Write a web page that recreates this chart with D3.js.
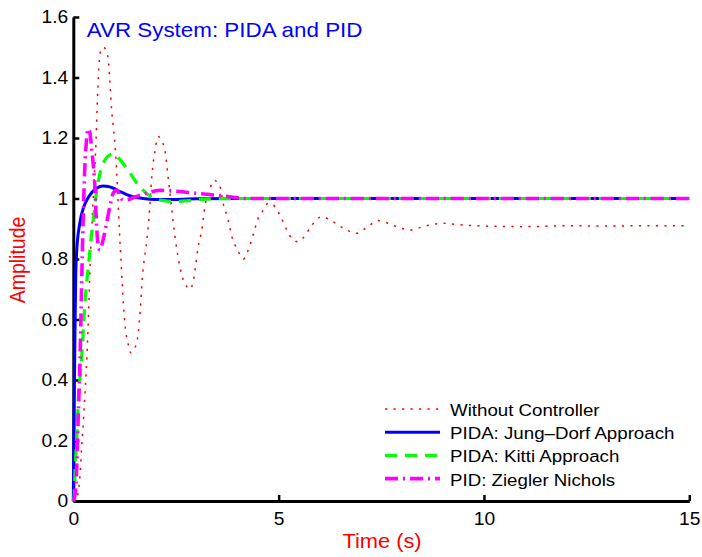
<!DOCTYPE html>
<html>
<head>
<meta charset="utf-8">
<script src="https://cdn.jsdelivr.net/npm/d3@7"></script>
<style>
  body { margin: 0; background: #fff; }
  svg { display: block; font-family: "Liberation Sans", Arial, Helvetica, sans-serif; }
</style>
</head>
<body>
<svg width="702" height="557"></svg>
<script>
// step responses: [time (s), amplitude]
var withoutController = [[0,0],[0.05,0],[0.1,0.015],[0.12,0.03],[0.15,0.064],[0.18,0.12],[0.2,0.175],[0.23,0.23],
  [0.28,0.345],[0.31,0.42],[0.35,0.54],[0.38,0.66],[0.42,0.82],[0.47,0.96],[0.51,1.07],[0.55,1.18],[0.58,1.3],
  [0.62,1.43],[0.67,1.49],[0.73,1.5],[0.8,1.49],[0.85,1.46],[0.89,1.39],[0.93,1.3],[0.97,1.24],[1.03,1.15],
  [1.08,1.02],[1.12,0.9],[1.16,0.8],[1.19,0.72],[1.22,0.65],[1.27,0.57],[1.34,0.516],[1.4,0.49],[1.5,0.506],
  [1.58,0.554],[1.63,0.63],[1.67,0.72],[1.72,0.79],[1.77,0.84],[1.84,0.93],[1.91,1.07],[1.99,1.16],[2.07,1.205],
  [2.15,1.19],[2.23,1.16],[2.31,1.07],[2.4,0.96],[2.48,0.87],[2.56,0.8],[2.64,0.747],[2.74,0.715],[2.83,0.7],
  [2.92,0.725],[2.98,0.78],[3.04,0.84],[3.13,0.896],[3.2,0.97],[3.33,1.034],[3.43,1.06],[3.57,1.04],[3.65,0.984],
  [3.77,0.93],[3.86,0.874],[3.94,0.846],[4.02,0.824],[4.14,0.8],[4.26,0.83],[4.38,0.88],[4.5,0.934],[4.63,0.962],
  [4.75,0.985],[4.91,0.973],[5.03,0.945],[5.2,0.896],[5.32,0.868],[5.48,0.857],[5.6,0.87],[5.8,0.91],[6.05,0.94],
  [6.3,0.925],[6.6,0.9],[6.9,0.885],[7.15,0.905],[7.43,0.927],[7.8,0.91],[8.2,0.896],[8.6,0.91],[9.0,0.918],
  [9.5,0.912],[10,0.909],[11,0.907],[12,0.91],[13,0.909],[14,0.91],[15,0.91]];

var jungDorf = [[0,0],[0.02,0.3],[0.04,0.55],[0.06,0.75],[0.08,0.82],[0.16,0.92],[0.25,0.97],[0.33,0.995],
  [0.45,1.02],[0.57,1.034],[0.73,1.041],[0.85,1.04],[0.97,1.034],[1.15,1.022],[1.3,1.013],[1.5,1.004],[1.7,1.0],
  [2.0,0.997],[2.5,0.997],[3,0.999],[4,1],[15,1]];

var kitti = [[0,0],[0.02,0.015],[0.04,0.09],[0.07,0.175],[0.1,0.25],[0.12,0.33],[0.16,0.4],[0.23,0.53],
  [0.27,0.63],[0.31,0.7],[0.37,0.78],[0.42,0.85],[0.49,0.93],[0.55,1.006],[0.65,1.083],[0.77,1.127],[0.89,1.144],
  [0.97,1.147],[1.05,1.14],[1.3,1.1],[1.58,1.045],[1.8,1.015],[1.99,1.0],[2.2,0.993],[2.5,0.99],[2.8,0.993],
  [3.2,0.998],[4,1],[15,1]];

var zieglerNichols = [[0,0],[0.05,0.03],[0.08,0.1],[0.1,0.19],[0.12,0.28],[0.15,0.4],[0.18,0.56],[0.2,0.7],
  [0.22,0.82],[0.25,0.98],[0.28,1.1],[0.32,1.19],[0.36,1.23],[0.4,1.22],[0.45,1.16],[0.49,1.105],[0.53,1.03],
  [0.56,0.93],[0.61,0.84],[0.65,0.83],[0.72,0.86],[0.81,0.918],[0.89,0.973],[0.98,1.02],[1.06,1.028],[1.18,0.998],
  [1.28,0.995],[1.5,1.005],[1.8,1.018],[2.1,1.027],[2.4,1.025],[2.8,1.02],[3.3,1.013],[3.8,1.006],[4.2,1.0],[15,1]];

var seriesNames = ["Without Controller", "PIDA: Jung\u2013Dorf Approach", "PIDA: Kitti Approach", "PID: Ziegler Nichols"];
var xTicks = [0, 5, 10, 15];
var yTicks = [0, 0.2, 0.4, 0.6, 0.8, 1, 1.2, 1.4, 1.6];

var svg = d3.select("svg");

var x = d3.scaleLinear().domain([0, 15]).range([73.3, 689.3]);
var y = d3.scaleLinear().domain([0, 1.6]).range([501, 17]);

// horizontal stretch of the original picture
var sx = 1.1;

function stretchTicks(g) {
  g.selectAll(".tick text").each(function() {
    var t = d3.select(this), tx = +t.attr("x") || 0;
    t.attr("x", 0).attr("transform", "translate(" + tx + ",0) scale(" + sx + ",1)");
  });
}

var yAxis = svg.append("g")
    .attr("transform", "translate(" + x(0) + ",0)")
    .call(d3.axisLeft(y).tickValues(yTicks).tickFormat(d3.format("")).tickSizeInner(-6).tickSizeOuter(0).tickPadding(5));
var xAxis = svg.append("g")
    .attr("transform", "translate(0," + y(0) + ")")
    .call(d3.axisBottom(x).tickValues(xTicks).tickSizeInner(-6).tickSizeOuter(0).tickPadding(12));

[yAxis, xAxis].forEach(function(g) {
  g.attr("font-size", 17.5).attr("font-family", null);
  g.select(".domain").attr("stroke", "#000").attr("stroke-width", 3);
  g.selectAll(".tick line").attr("stroke", "#000").attr("stroke-width", 2.5);
  g.selectAll(".tick text").attr("fill", "#000");
  stretchTicks(g);
});
xAxis.selectAll(".tick text").attr("dy", "0.71em").attr("y", 12);

var line = d3.line()
    .x(function(d) { return x(d[0]); })
    .y(function(d) { return y(d[1]); })
    .curve(d3.curveMonotoneX);

var styles = [
  { data: withoutController, color: "#ff0000", width: 1.5, dash: "2.2,6.3" },
  { data: jungDorf, color: "#0000ff", width: 3, dash: null },
  { data: kitti, color: "#00ff00", width: 3.2, dash: "12,8" },
  { data: zieglerNichols, color: "#ff00ff", width: 3.6, dash: "13,5,2,5" }
];

styles.forEach(function(s) {
  svg.append("path")
      .datum(s.data)
      .attr("fill", "none")
      .attr("stroke", s.color)
      .attr("stroke-width", s.width)
      .attr("stroke-dasharray", s.dash)
      .attr("d", line);
});

// title
svg.append("text")
    .attr("transform", "translate(86.7,37) scale(1.12,1)")
    .attr("font-size", 20)
    .attr("fill", "#0000ff")
    .text("AVR System: PIDA and PID");

// axis labels
svg.append("text")
    .attr("transform", "translate(382,548) scale(1.12,1)")
    .attr("text-anchor", "middle")
    .attr("font-size", 19.5)
    .attr("fill", "#ff0000")
    .text("Time (s)");

svg.append("text")
    .attr("transform", "translate(25,260) scale(1.12,1) rotate(-90)")
    .attr("text-anchor", "middle")
    .attr("font-size", 19.5)
    .attr("fill", "#ff0000")
    .text("Amplitude");

// legend
var legend = svg.append("g");
seriesNames.forEach(function(name, i) {
  var ly = 409 + i * 23.2;
  legend.append("line")
      .attr("x1", 385).attr("x2", 440)
      .attr("y1", ly).attr("y2", ly)
      .attr("stroke", styles[i].color)
      .attr("stroke-width", styles[i].width)
      .attr("stroke-dasharray", styles[i].dash);
  legend.append("text")
      .attr("transform", "translate(450," + (ly + 7) + ") scale(" + sx + ",1)")
      .attr("font-size", 17)
      .attr("fill", "#000")
      .text(name);
});
</script>
</body>
</html>
